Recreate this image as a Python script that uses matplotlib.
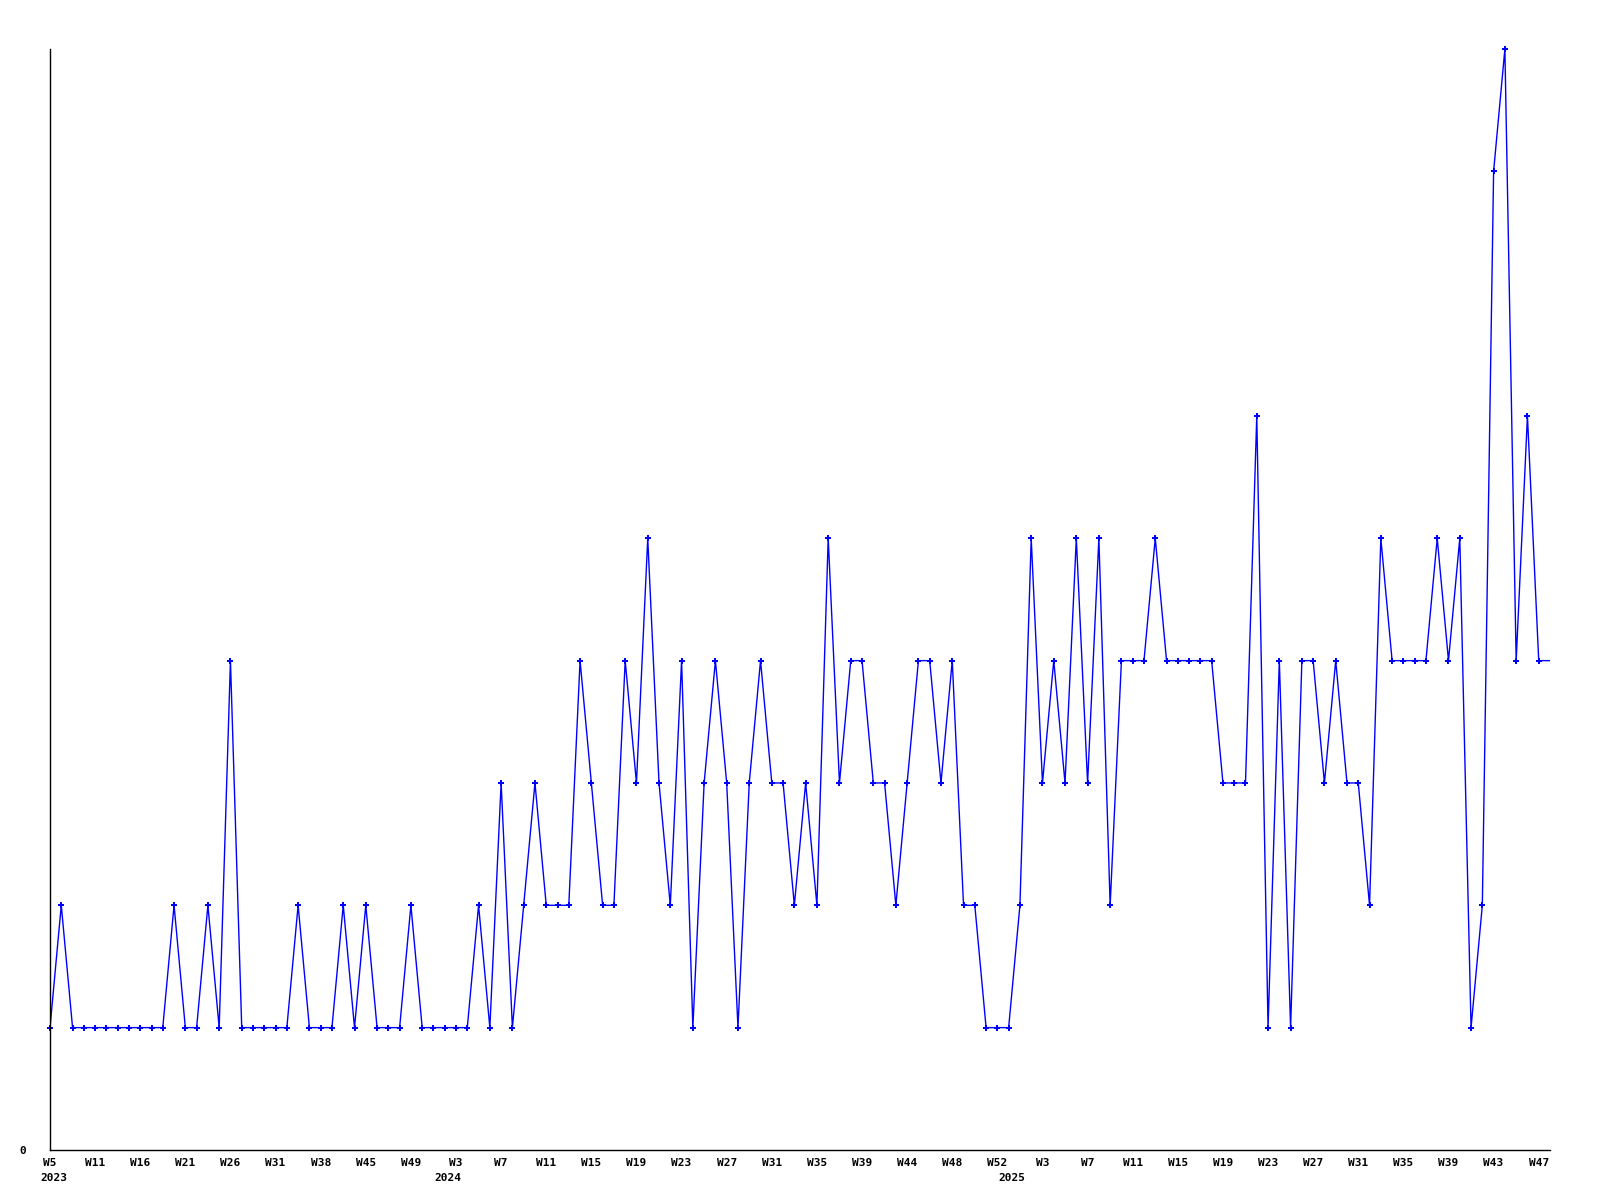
import matplotlib
matplotlib.use("Agg")
import matplotlib.pyplot as plt
import numpy as np

values = [1, 2, 1, 1, 1, 1, 1, 1, 1, 1, 1, 2, 1, 1, 2, 1, 4, 1, 1, 1,
          1, 1, 2, 1, 1, 1, 2, 1, 2, 1, 1, 1, 2, 1, 1, 1, 1, 1, 2, 1,
          3, 1, 2, 3, 2, 2, 2, 4, 3, 2, 2, 4, 3, 5, 3, 2, 4, 1, 3, 4,
          3, 1, 3, 4, 3, 3, 2, 3, 2, 5, 3, 4, 4, 3, 3, 2, 3, 4, 4, 3,
          4, 2, 2, 1, 1, 1, 2, 5, 3, 4, 3, 5, 3, 5, 2, 4, 4, 4, 5, 4,
          4, 4, 4, 4, 3, 3, 3, 6, 1, 4, 1, 4, 4, 3, 4, 3, 3, 2, 5, 4,
          4, 4, 4, 5, 4, 5, 1, 2, 8, 9, 4, 6, 4, 4]

week_labels = ["W5", "W11", "W16", "W21", "W26", "W31", "W38", "W45", "W49",
               "W3", "W7", "W11", "W15", "W19", "W23", "W27", "W31", "W35",
               "W39", "W44", "W48", "W52", "W3", "W7", "W11", "W15", "W19",
               "W23", "W27", "W31", "W35", "W39", "W43", "W47"]
label_step = 4

year_labels = ["2023", "2024", "2025"]
year_positions = [0.3, 35.3, 85.3]

x = np.arange(len(values))

fig = plt.figure(figsize=(16, 12), dpi=100)
ax = fig.add_axes([0.03125, 0.0417, 0.9375, 0.9175])

blue = (0, 0, 1)
ax.plot(x, values, color=blue, linewidth=1.0, clip_on=True)
ax.plot(x[:-1], values[:-1], linestyle="none", marker='P', color=blue,
        markersize=4, markeredgewidth=0, clip_on=False)

ax.set_xlim(0, len(values) - 1)
ax.set_ylim(0, max(values))

for s in ["top", "right"]:
    ax.spines[s].set_visible(False)
for s in ["left", "bottom"]:
    ax.spines[s].set_color("black")
    ax.spines[s].set_linewidth(1.0)

font = dict(family="DejaVu Sans Mono", weight="bold", size=8)

ax.set_xticks(np.arange(len(week_labels)) * label_step)
ax.set_xticklabels(week_labels, fontdict=font)
ax.tick_params(axis="x", length=0, pad=5.5)
ax.set_yticks([0])
ax.set_yticklabels(["0"], fontdict=font)
ax.tick_params(axis="y", length=0, pad=17)

for lab, pos in zip(year_labels, year_positions):
    ax.text(pos, -0.0206, lab, transform=ax.get_xaxis_transform(),
            ha="center", va="top", **font)

fig.savefig("out.png", dpi=100, facecolor="white")
